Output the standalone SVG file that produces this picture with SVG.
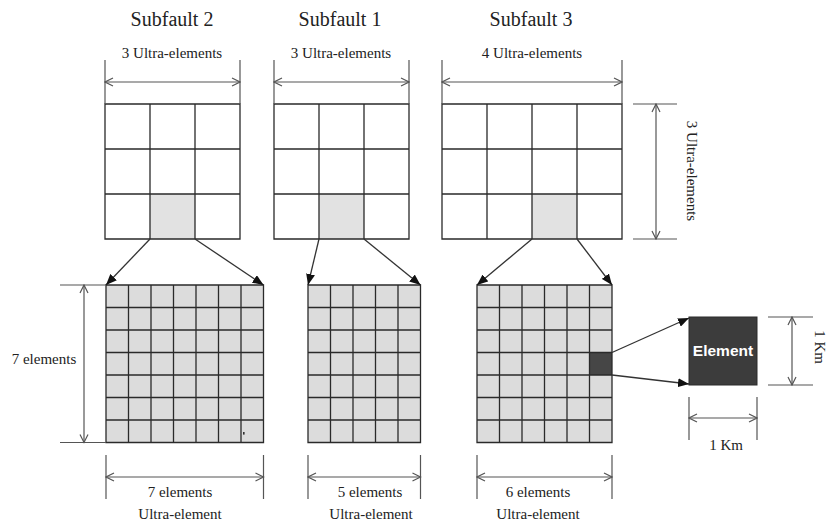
<svg xmlns="http://www.w3.org/2000/svg" width="828" height="527" viewBox="0 0 828 527">
<style>
  .t{font-family:"Liberation Serif","Times New Roman",serif;fill:#222;text-anchor:middle}
  .title{font-size:20px}
  .lbl{font-size:15px}
  .grid{stroke:#2a2a2a;stroke-width:1.3;fill:none}
  .dim{stroke:#555;stroke-width:1.2;fill:none}
  .dimarrow{stroke:#555;stroke-width:1.2;fill:none;marker-start:url(#open);marker-end:url(#open)}
  .conn{stroke:#333;stroke-width:1.3;fill:none;marker-end:url(#solid)}
  .light{fill:#e2e2e2}
  .lightb{fill:#dcdcdc}
</style>
<defs>
  <marker id="open" markerUnits="userSpaceOnUse" markerWidth="10" markerHeight="10" refX="9" refY="5" orient="auto-start-reverse" viewBox="0 0 10 10">
    <path d="M1,1 L9,5 L1,9" fill="none" stroke="#555" stroke-width="1.2"/>
  </marker>
  <marker id="solid" markerUnits="userSpaceOnUse" markerWidth="11" markerHeight="9" refX="11" refY="4.5" orient="auto" viewBox="0 0 11 9">
    <path d="M0,0 L11,4.5 L0,9 z" fill="#111"/>
  </marker>
</defs>

<!-- Titles -->
<g id="titles">
  <text class="t title" x="172" y="26">Subfault 2</text>
  <text class="t title" x="340" y="26">Subfault 1</text>
  <text class="t title" x="531" y="26">Subfault 3</text>
</g>

<!-- Top grid: Subfault 2 -->
<g id="subfault2">
  <rect x="105" y="104" width="135" height="135" fill="#fff"/>
  <rect class="light" x="150" y="194" width="45" height="45"/>
  <path class="grid" d="M105,104 H240 V239 H105 Z M150,104 V239 M195,104 V239 M105,149 H240 M105,194 H240"/>
  <path class="dim" d="M105,60 V104 M240,60 V104"/>
  <line class="dimarrow" x1="105" y1="82" x2="240" y2="82"/>
  <text class="t lbl" x="172" y="58">3 Ultra-elements</text>
</g>

<!-- Top grid: Subfault 1 -->
<g id="subfault1">
  <rect x="274" y="104" width="135" height="135" fill="#fff"/>
  <rect class="light" x="319" y="194" width="45" height="45"/>
  <path class="grid" d="M274,104 H409 V239 H274 Z M319,104 V239 M364,104 V239 M274,149 H409 M274,194 H409"/>
  <path class="dim" d="M274,60 V104 M409,60 V104"/>
  <line class="dimarrow" x1="274" y1="82" x2="409" y2="82"/>
  <text class="t lbl" x="341" y="58">3 Ultra-elements</text>
</g>

<!-- Top grid: Subfault 3 -->
<g id="subfault3">
  <rect x="442" y="104" width="180" height="135" fill="#fff"/>
  <rect class="light" x="532" y="194" width="45" height="45"/>
  <path class="grid" d="M442,104 H622 V239 H442 Z M487,104 V239 M532,104 V239 M577,104 V239 M442,149 H622 M442,194 H622"/>
  <path class="dim" d="M442,60 V104 M622,60 V104"/>
  <line class="dimarrow" x1="442" y1="82" x2="622" y2="82"/>
  <text class="t lbl" x="532" y="58">4 Ultra-elements</text>
  <path class="dim" d="M633,104 H677 M633,239 H677"/>
  <line class="dimarrow" x1="656" y1="104" x2="656" y2="239"/>
  <text class="t lbl" x="687" y="171" transform="rotate(90 687 171)">3 Ultra-elements</text>
</g>

<!-- Bottom grid: Ultra-element of Subfault 2 (7x7) -->
<g id="ultra2">
  <rect class="lightb" x="106" y="285" width="157.5" height="157.5"/>
  <path class="grid" d="M106,285 H263.5 V442.5 H106 Z
    M128.5,285 V442.5 M151,285 V442.5 M173.5,285 V442.5 M196,285 V442.5 M218.5,285 V442.5 M241,285 V442.5
    M106,307.5 H263.5 M106,330 H263.5 M106,352.5 H263.5 M106,375 H263.5 M106,397.5 H263.5 M106,420 H263.5"/>
  <rect x="243" y="432" width="1.6" height="2.6" fill="#333"/>
  <path class="dim" d="M60,285 H106 M60,442.5 H106"/>
  <line class="dimarrow" x1="84" y1="285" x2="84" y2="442.5"/>
  <text class="t lbl" x="44" y="364">7 elements</text>
  <path class="dim" d="M106,455 V499 M263.5,455 V499"/>
  <line class="dimarrow" x1="106" y1="477" x2="263.5" y2="477"/>
  <text class="t lbl" x="180" y="497">7 elements</text>
  <text class="t lbl" x="180" y="519">Ultra-element</text>
</g>

<!-- Bottom grid: Ultra-element of Subfault 1 (5x7) -->
<g id="ultra1">
  <rect class="lightb" x="308" y="285" width="112.5" height="157.5"/>
  <path class="grid" d="M308,285 H420.5 V442.5 H308 Z
    M330.5,285 V442.5 M353,285 V442.5 M375.5,285 V442.5 M398,285 V442.5
    M308,307.5 H420.5 M308,330 H420.5 M308,352.5 H420.5 M308,375 H420.5 M308,397.5 H420.5 M308,420 H420.5"/>
  <path class="dim" d="M308,455 V499 M420.5,455 V499"/>
  <line class="dimarrow" x1="308" y1="477" x2="420.5" y2="477"/>
  <text class="t lbl" x="370" y="497">5 elements</text>
  <text class="t lbl" x="371" y="519">Ultra-element</text>
</g>

<!-- Bottom grid: Ultra-element of Subfault 3 (6x7) -->
<g id="ultra3">
  <rect class="lightb" x="477" y="285" width="135" height="157.5"/>
  <rect x="589.5" y="352.5" width="22.5" height="22.5" fill="#464646"/>
  <path class="grid" d="M477,285 H612 V442.5 H477 Z
    M499.5,285 V442.5 M522,285 V442.5 M544.5,285 V442.5 M567,285 V442.5 M589.5,285 V442.5
    M477,307.5 H612 M477,330 H612 M477,352.5 H612 M477,375 H612 M477,397.5 H612 M477,420 H612"/>
  <path class="dim" d="M477,455 V499 M612,455 V499"/>
  <line class="dimarrow" x1="477" y1="477" x2="612" y2="477"/>
  <text class="t lbl" x="538" y="497">6 elements</text>
  <text class="t lbl" x="538" y="519">Ultra-element</text>
</g>

<!-- Element -->
<g id="element">
  <rect x="689" y="317" width="68" height="68" fill="#3c3c3c" stroke="#2a2a2a" stroke-width="1"/>
  <text x="723" y="356" text-anchor="middle" font-family="Liberation Sans, Arial, sans-serif" font-weight="bold" font-size="15.5" fill="#fff">Element</text>
  <path class="dim" d="M768,317 H813 M768,385 H813"/>
  <line class="dimarrow" x1="792" y1="317" x2="792" y2="385"/>
  <text class="t lbl" x="815" y="347" transform="rotate(90 815 347)">1 Km</text>
  <path class="dim" d="M689,397 V440 M757,397 V440"/>
  <line class="dimarrow" x1="689" y1="418" x2="757" y2="418"/>
  <text class="t lbl" x="726" y="450">1 Km</text>
</g>

<!-- Connectors -->
<g id="connectors">
  <line class="conn" x1="150" y1="239" x2="106" y2="285"/>
  <line class="conn" x1="195" y1="239" x2="263.5" y2="285"/>
  <line class="conn" x1="319" y1="239" x2="308" y2="285"/>
  <line class="conn" x1="364" y1="239" x2="420.5" y2="285"/>
  <line class="conn" x1="532" y1="239" x2="477" y2="285"/>
  <line class="conn" x1="577" y1="239" x2="612" y2="285"/>
  <line class="conn" x1="612" y1="352.5" x2="689" y2="318"/>
  <line class="conn" x1="612" y1="375" x2="689" y2="384"/>
</g>
</svg>
